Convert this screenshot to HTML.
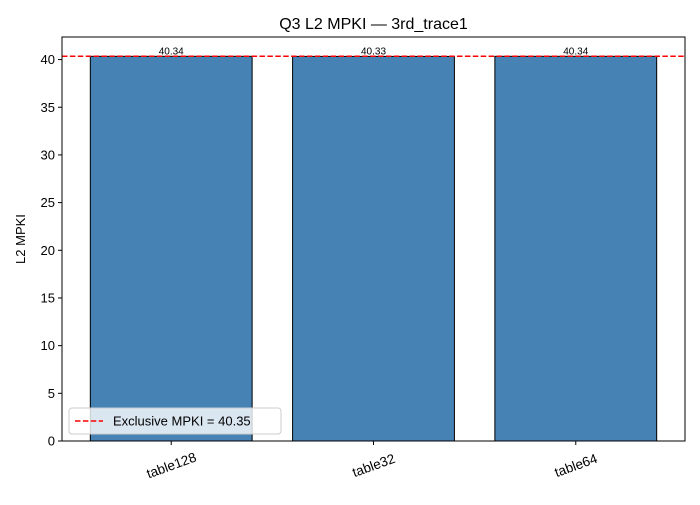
<!DOCTYPE html>
<html><head><meta charset="utf-8"><style>
body{margin:0;background:#fff;font-family:"Liberation Sans",sans-serif}
</style></head><body>
<svg width="700" height="500" viewBox="0 0 700 500" xmlns="http://www.w3.org/2000/svg">
<g id="plot"></g>
</svg>
<script>
const categories=["table128","table32","table64"];
const values=[40.34,40.33,40.34];
const valueLabels=["40.34","40.33","40.34"];
const exclusive=40.35;
const yTicks=[0,5,10,15,20,25,30,35,40];
const NS="http://www.w3.org/2000/svg";
const L=62,R=685,T=37,B=441;
const yMax=exclusive*1.05;
const xMin=-0.54,xMax=categories.length-1+0.54;
const y=v=>B-(v/yMax)*(B-T);
const x=v=>L+(v-xMin)/(xMax-xMin)*(R-L);
const g=document.getElementById('plot');
function mk(t,a,txt){const e=document.createElementNS(NS,t);for(const k in a)e.setAttribute(k,a[k]);if(txt!=null)e.textContent=txt;g.appendChild(e);return e;}
const t=mk('text',{x:(L+R)/2,y:29,'text-anchor':'middle','font-size':16},'Q3 L2 MPKI — 3rd_trace1');


categories.forEach((c,i)=>{
 const w=(x(0.8)-x(0));
 const b=mk('rect',{x:x(i-0.4),y:y(values[i]),width:w,height:B-y(values[i]),fill:'#4682b4',stroke:'#000','stroke-width':1});
 
 
 const vl=mk('text',{x:x(i),y:y(values[i])-2,'text-anchor':'middle','font-size':10},valueLabels[i]);
 
 
 mk('line',{x1:x(i),x2:x(i),y1:B,y2:B+4,stroke:'#000'});
 const cx=x(i),cy=B+24;
 const tl=mk('text',{x:cx,y:cy+5,'text-anchor':'middle','font-size':13.5,transform:`rotate(-20 ${cx} ${cy})`},c);
 
 
});
yTicks.forEach(v=>{
 mk('line',{x1:L-4,x2:L,y1:y(v),y2:y(v),stroke:'#000'});
 const tl=mk('text',{x:L-7,y:y(v)+4.5,'text-anchor':'end','font-size':13},String(v));
 
 
});
const ln=mk('line',{x1:L,x2:R,y1:y(exclusive),y2:y(exclusive),stroke:'#ff0000','stroke-width':1.5,'stroke-dasharray':'5.5,2.4'});


const fr=mk('rect',{x:L,y:T,width:R-L,height:B-T,fill:'none',stroke:'#000','stroke-width':1});


const yl=mk('text',{x:25,y:(T+B)/2,'text-anchor':'middle','font-size':13,transform:`rotate(-90 25 ${(T+B)/2})`},'L2 MPKI');


const lg=mk('rect',{x:69,y:408,width:212,height:26,fill:'#fff','fill-opacity':0.8,stroke:'#ccc',rx:3});


mk('line',{x1:75,x2:103,y1:421,y2:421,stroke:'#ff0000','stroke-width':1.5,'stroke-dasharray':'5.5,2.4'});
const le=mk('text',{x:113,y:425.5,'font-size':13},'Exclusive MPKI = 40.35');


</script>
</body></html>
